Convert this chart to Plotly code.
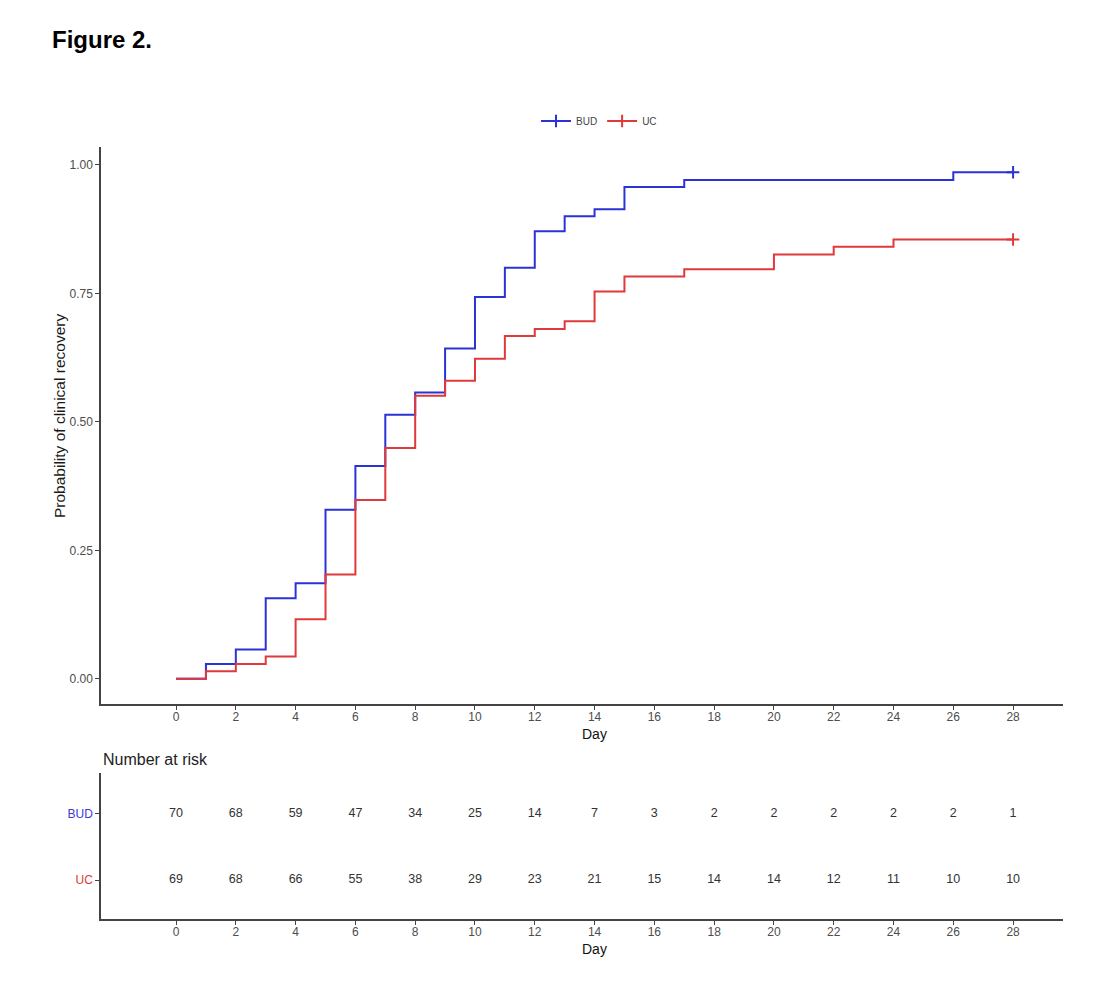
import plotly.graph_objects as go

# ---- data ----
days_bud = [0, 1, 2, 3, 4, 5, 6, 7, 8, 9, 10, 11, 12, 13, 14, 15, 17, 26, 28]
prob_bud = [0, 0.029, 0.057, 0.157, 0.186, 0.329, 0.414, 0.514, 0.557, 0.643,
            0.743, 0.800, 0.871, 0.900, 0.914, 0.957, 0.971, 0.986, 0.986]

days_uc = [0, 1, 2, 3, 4, 5, 6, 7, 8, 9, 10, 11, 12, 13, 14, 15, 17, 20, 22, 24, 28]
prob_uc = [0, 0.0145, 0.029, 0.0435, 0.116, 0.203, 0.348, 0.449, 0.551, 0.580,
           0.623, 0.667, 0.681, 0.696, 0.754, 0.783, 0.797, 0.826, 0.841, 0.855, 0.855]

censor_day = [28]
censor_bud = [0.986]
censor_uc = [0.855]

risk_days = [0, 2, 4, 6, 8, 10, 12, 14, 16, 18, 20, 22, 24, 26, 28]
risk_bud = [70, 68, 59, 47, 34, 25, 14, 7, 3, 2, 2, 2, 2, 2, 1]
risk_uc = [69, 68, 66, 55, 38, 29, 23, 21, 15, 14, 14, 12, 11, 10, 10]

groups = ["BUD", "UC"]
y_ticks = [0, 0.25, 0.5, 0.75, 1.0]
y_ticklabels = ["0.00", "0.25", "0.50", "0.75", "1.00"]

BLUE = "#2b33d6"
RED = "#e0393b"
AXC = "#444444"
TICKC = "#4d4d4d"
FONT = "Liberation Sans, Arial, sans-serif"

# page offset (html body margin)
OFF = 8
W, H = 1094 - OFF, 984 - OFF
ML, MR, MT, MB = 101 - OFF, 31, 147 - OFF, 65

fig = go.Figure()

# step curves
fig.add_trace(go.Scatter(x=days_bud, y=prob_bud, mode="lines", line=dict(color=BLUE, width=2, shape="hv"),
                         showlegend=False, xaxis="x", yaxis="y"))
fig.add_trace(go.Scatter(x=days_uc, y=prob_uc, mode="lines", line=dict(color=RED, width=2, shape="hv"),
                         showlegend=False, xaxis="x", yaxis="y"))
# censor marks
fig.add_trace(go.Scatter(x=censor_day, y=censor_bud, mode="markers",
                         marker=dict(symbol="cross-thin", size=9, line=dict(color=BLUE, width=2)),
                         showlegend=False, xaxis="x", yaxis="y"))
fig.add_trace(go.Scatter(x=censor_day, y=censor_uc, mode="markers",
                         marker=dict(symbol="cross-thin", size=9, line=dict(color=RED, width=2)),
                         showlegend=False, xaxis="x", yaxis="y"))
# legend entries
for name, col in zip(groups, [BLUE, RED]):
    fig.add_trace(go.Scatter(x=[None], y=[None], mode="lines+markers", name=name,
                             line=dict(color=col, width=2),
                             marker=dict(symbol="cross-thin", size=9, line=dict(color=col, width=2)),
                             xaxis="x", yaxis="y"))

# risk table
fig.add_trace(go.Scatter(x=risk_days, y=[1] * len(risk_days), mode="text",
                         text=[str(v) for v in risk_bud],
                         textfont=dict(size=12.5, color="#333333", family=FONT),
                         showlegend=False, xaxis="x2", yaxis="y2"))
fig.add_trace(go.Scatter(x=risk_days, y=[0] * len(risk_days), mode="text",
                         text=[str(v) for v in risk_uc],
                         textfont=dict(size=12.5, color="#333333", family=FONT),
                         showlegend=False, xaxis="x2", yaxis="y2"))

xrange = [-2.51, 29.67]
xticks = list(range(0, 29, 2))

axis_common = dict(showline=True, linecolor=AXC, linewidth=1.5, ticks="outside", ticklen=4,
                   tickcolor=AXC, tickwidth=1.2, showgrid=False, zeroline=False,
                   tickfont=dict(size=12, color=TICKC, family=FONT))

H_plot = H - MT - MB
W_plot = W - ML - MR


def py(pix):
    return (H - MB - (pix - OFF)) / H_plot


def px(pix):
    return (pix - OFF - ML) / W_plot


fig.update_layout(
    width=W, height=H, autosize=False,
    margin=dict(l=ML, r=MR, t=MT, b=MB),
    plot_bgcolor="white", paper_bgcolor="white",
    font=dict(family=FONT),
    xaxis=dict(domain=[0, 1], anchor="y", range=xrange, tickvals=xticks, ticklabelstandoff=-3,
               **axis_common),
    yaxis=dict(domain=[py(704), 1], anchor="x", range=[-0.049, 1.035], tickvals=y_ticks,
               ticktext=y_ticklabels, **axis_common),
    xaxis2=dict(domain=[0, 1], anchor="y2", range=xrange, tickvals=xticks, ticklabelstandoff=-3,
                **axis_common),
    yaxis2=dict(domain=[0, py(773)], anchor="x2", range=[-0.59, 1.62], tickvals=[0, 1],
                ticktext=["<span style='color:%s'>UC</span>" % RED,
                          "<span style='color:#3a3ad8'>BUD</span>"],
                **axis_common),
    legend=dict(orientation="h", x=px(599), xanchor="center", y=py(121), yanchor="middle",
                font=dict(size=10, color="#444444", family=FONT), itemwidth=30,
                bgcolor="rgba(0,0,0,0)"),
    annotations=[
        dict(text="<b>Figure 2.</b>", x=px(50), y=py(40), xref="paper", yref="paper", showarrow=False,
             font=dict(size=24, color="black", family=FONT), xanchor="left", yanchor="middle"),
        dict(text="Probability of clinical recovery", x=px(59), y=py(416), xref="paper", yref="paper",
             showarrow=False, textangle=-90,
             font=dict(size=15.5, color="#1a1a1a", family=FONT), xanchor="center", yanchor="middle"),
        dict(text="Day", x=14, y=py(734), xref="x", yref="paper", showarrow=False,
             font=dict(size=14, color="#111111", family=FONT), xanchor="center", yanchor="middle"),
        dict(text="Day", x=14, y=py(949), xref="x2", yref="paper", showarrow=False,
             font=dict(size=14, color="#111111", family=FONT), xanchor="center", yanchor="middle"),
        dict(text="Number at risk", x=0, y=py(759), xref="paper", yref="paper", showarrow=False,
             font=dict(size=16, color="#222222", family=FONT), xanchor="left", yanchor="middle"),
    ],
)

fig.write_html("out.html")
